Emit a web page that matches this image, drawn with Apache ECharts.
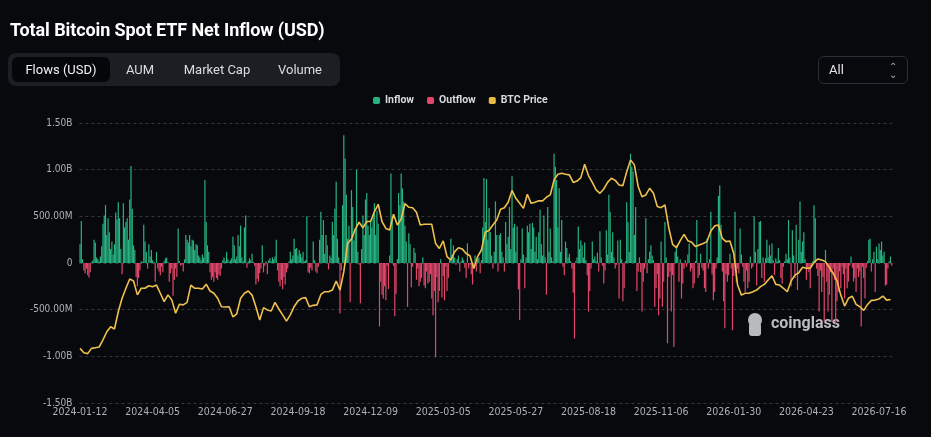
<!DOCTYPE html>
<html>
<head>
<meta charset="utf-8">
<script src="https://cdn.jsdelivr.net/npm/echarts@6/dist/echarts.min.js"></script>
<style>
	html, body { margin: 0; padding: 0; background: #08090d; }
	#wrap { position: relative; width: 931px; height: 437px; overflow: hidden; font-family: Roboto, "Noto Sans", sans-serif; }
	#chart { position: absolute; left: 0; top: 0; width: 931px; height: 437px; }
	.tit { position: absolute; left: 10px; top: 19px; color: #fff; font-size: 18px; font-weight: bold; letter-spacing: -0.1px; }
	.tabs { position: absolute; left: 8px; top: 53px; width: 332px; height: 33px; background: #1c1e24; border-radius: 8px; }
	.tab { position: absolute; top: 4px; height: 25px; line-height: 25px; color: #dcdde0; font-size: 13px; text-align: center; border-radius: 6px; }
	.tab.on { background: #050609; color: #f2f2f2; }
	.sel { position: absolute; left: 818px; top: 56px; width: 88px; height: 26px; border: 1px solid #2c2f36; border-radius: 6px; color: #e6e6e6; font-size: 13px; line-height: 26px; }
	.sel span { position: absolute; left: 10px; }
	.sel i { position: absolute; right: 10px; top: 0; font-style: normal; font-size: 10px; line-height: 8px; color: #b0b0b0; padding-top: 6px; }
</style>
</head>
<body>
<div id="wrap">
	<div id="chart"></div>
	<div class="tit">Total Bitcoin Spot ETF Net Inflow (USD)</div>
	<div class="tabs">
		<div class="tab on" style="left:4px;width:98px">Flows (USD)</div>
		<div class="tab" style="left:112px;width:40px">AUM</div>
		<div class="tab" style="left:170px;width:78px">Market Cap</div>
		<div class="tab" style="left:262px;width:60px">Volume</div>
	</div>
	<div class="sel"><span>All</span><i>&#8963;<br>&#8964;</i></div>
</div>
<script>
// daily net flow, USD millions (one per trading day from 2024-01-12)
var flows = [
	200, 450, 40, -80, -110, -60, -130, -155, -100, 10,
	30, 250, 220, 60, 40, 20, 70, 180, 420, 510,
	620, 300, 480, 330, 150, 230, 90, 200, 540, 470,
	650, 480, 150, -120, 640, 380, 440, 480, 250, 680,
	1040, 580, 190, 140, -150, -250, -160, -80, 20, 10,
	410, 230, 120, -60, 200, 70, 140, 30, 10, -200,
	120, -60, -90, -130, -40, -100, 20, 50, 60, 10,
	-200, -110, -60, -350, -180, -60, -150, 370, 20, -30,
	-20, -90, 40, 300, 250, 220, 300, 180, 250, 240,
	140, 200, 190, 80, 60, 30, 90, 60, 890, 440,
	190, 120, -100, -180, -150, -200, -100, -160, -180, -120,
	-140, -60, 30, 60, 20, 120, 40, 10, 30, 50,
	280, 190, 40, 70, 300, 180, 400, 60, 20, 380,
	510, -50, 20, 50, 30, 100, 10, -30, -230, -170,
	-200, -110, -60, 190, -100, -30, 20, -120, 30, 50,
	20, 60, 40, 70, 250, -80, -200, -250, -180, -280,
	-150, -230, -100, -60, 20, 120, 40, 80, 260, 150,
	160, 80, 140, 100, 60, 120, 20, 30, 500, -100,
	-110, -50, -80, 230, 30, -90, -110, -40, 250, 550,
	300, 460, 100, 300, 190, -70, 80, 60, 440, 300,
	580, 870, 260, 60, -540, -80, 620, 1370, 1120, 730,
	260, 400, -420, 780, 600, 240, 360, 1000, 120, -20,
	-430, 150, 510, 300, 680, 750, 400, 300, 460, 380,
	520, 640, 300, 560, 420, -680, -200, -340, -380, -250,
	-400, -30, -280, 80, 960, 500, -30, -570, -330, 40,
	750, 620, 960, 800, 660, 400, 230, -470, 320, 200,
	-260, -40, 160, 110, -180, -60, -250, -200, -160, 60,
	-240, -270, -90, -220, -200, -120, -380, -560, -300, -1010,
	-150, -420, -300, 40, -370, -140, -400, -40, -300, -160,
	30, 260, 90, 190, 60, -20, 40, 80, -90, 20,
	60, 30, -50, -160, 210, -60, -20, -120, -230, -40,
	80, -90, 40, 60, -110, 30, 380, 910, 440, 900,
	250, 590, 330, 80, -60, 120, 660, 300, -90, 300,
	320, 120, 60, -90, 440, 200, 280, 600, 150, 930,
	380, 420, 120, 390, -280, -610, 40, 370, 90, -270,
	60, 400, 330, 420, 150, 430, 380, 120, 280, 40,
	330, 570, 200, 80, 510, 60, -340, 600, 120, 370,
	60, 20, 1170, 1030, 890, 380, 800, 120, 460, -40,
	-130, 230, 160, 60, 100, 20, -60, -320, -810, 20,
	60, 390, 150, 240, 190, 60, 220, 30, -130, -520,
	-300, -60, 230, 40, 70, 20, 110, -90, 340, 60,
	-30, -220, -80, 350, 90, 730, 550, 120, 330, 60,
	-60, -20, 240, -380, 250, 40, -410, -270, 20, 650,
	440, 120, 1170, 1030, 980, 300, 600, -300, -90, 60,
	-100, -520, -200, -60, 480, -110, 40, 120, 190, 80,
	30, -470, -270, -120, -560, -380, 230, -470, -200, 440,
	60, -860, -150, -90, -520, -130, -900, 120, 190, 70,
	-200, 40, -380, -220, -60, 30, -40, 90, 210, -90,
	-60, -270, -220, 20, 460, -160, -130, 100, -50, -80,
	-270, -310, 260, -60, 40, 550, -120, -400, -310, -60,
	60, 720, 830, 410, -90, -410, -700, -120, -200, -130,
	100, -60, -720, -140, 550, -200, -60, -110, 370, 90,
	-40, -200, -310, -80, -270, -200, 70, -60, -40, 500,
	120, -240, 150, 440, 450, -160, 60, -200, 50, 250,
	60, 190, 80, 210, 30, -130, 50, 20, 160, 30,
	-160, -220, -40, 20, 100, 40, 460, 60, -250, 350,
	80, -160, 410, -290, 250, 660, 120, 230, 330, 40,
	-180, -60, -100, -270, -40, 20, 620, 480, -60, -140,
	-520, -80, -310, -150, -630, 140, -200, -520, -340, -100,
	-630, -60, -180, -660, -410, -310, -90, -270, -40, -120,
	-380, -60, -270, -200, -30, 70, -50, -200, -160, -310,
	-60, -150, -90, -680, -40, -160, -380, -50, 20, 250,
	260, -90, 40, 120, -310, 175, 40, 210, 140, 230,
	80, 120, -240, -230, -60, 20, 70, -30
];

// BTC price, USD thousands, read every 3rd trading day
var priceStep = 3;
var btcPrice = [
	43.0, 41.1, 40.7, 43.0, 43.3, 43.6, 46.7, 50.3, 52.5, 51.5,
	59.1, 65.0, 69.4, 73.5, 72.6, 66.5, 69.4, 69.4, 70.5, 70.1,
	70.8, 67.2, 63.5, 66.5, 64.3, 58.4, 62.4, 62.1, 63.2, 70.8,
	69.4, 69.4, 69.1, 71.2, 68.2, 67.2, 65.0, 61.3, 61.2, 61.3,
	56.8, 58.2, 65.0, 67.2, 68.2, 66.4, 61.3, 55.5, 60.9, 59.9,
	59.4, 63.2, 60.3, 57.7, 55.0, 57.7, 61.3, 63.8, 65.0, 65.3,
	61.3, 61.9, 62.1, 66.7, 67.9, 67.9, 68.6, 72.6, 68.6, 76.7,
	89.2, 91.0, 95.4, 98.4, 96.0, 98.7, 98.7, 103.0, 106.3, 98.7,
	95.7, 95.0, 101.9, 97.2, 99.8, 106.6, 105.0, 104.8, 102.8, 97.2,
	97.5, 97.5, 97.5, 89.1, 86.9, 90.2, 83.3, 81.8, 85.5, 87.2,
	86.6, 84.7, 83.7, 78.1, 83.3, 86.2, 94.0, 94.9, 97.2, 99.4,
	104.1, 104.8, 107.2, 112.4, 108.9, 106.7, 104.5, 110.7, 106.7, 107.2,
	107.8, 107.8, 109.4, 110.4, 117.0, 119.5, 119.9, 119.5, 119.2, 115.9,
	116.5, 118.0, 123.9, 118.9, 115.9, 112.6, 111.1, 113.0, 115.9, 117.7,
	116.8, 114.8, 114.5, 120.6, 125.8, 123.6, 114.1, 109.6, 110.4, 113.3,
	111.1, 105.3, 104.8, 106.0, 96.0, 88.7, 87.2, 90.3, 93.1, 90.3,
	89.6, 87.7, 88.4, 89.1, 89.9, 94.6, 96.8, 97.2, 91.3, 89.9,
	90.2, 84.7, 70.8, 66.4, 67.2, 67.2, 67.9, 68.6, 70.1, 71.1,
	73.0, 74.9, 71.1, 70.8, 69.4, 67.9, 72.6, 75.2, 76.2, 78.6,
	78.2, 78.2, 80.8, 82.3, 81.8, 81.1, 78.6, 76.0, 72.8, 66.4,
	61.6, 65.0, 65.9, 62.3, 61.3, 59.7, 62.3, 64.1, 64.2, 64.7,
	66.0, 64.2, 64.5
];

var firstDay = '2024-01-12';
var marketHolidays = [
	'2024-01-15', '2024-02-19', '2024-03-29', '2024-05-27', '2024-06-19', '2024-07-04', '2024-09-02', '2024-11-28', '2024-12-25',
	'2025-01-01', '2025-01-09', '2025-01-20', '2025-02-17', '2025-04-18', '2025-05-26', '2025-06-19', '2025-07-04', '2025-09-01', '2025-11-27', '2025-12-25',
	'2026-01-01', '2026-01-19', '2026-02-16', '2026-04-03', '2026-05-25', '2026-06-19', '2026-07-03'
];

// trading-day categories for the x axis
function tradingDays(start, n){
	var out = [];
	var d = new Date(start + 'T00:00:00Z');
	while(out.length < n){
		var s = d.toISOString().slice(0, 10);
		var wd = d.getUTCDay();
		if(wd !== 0 && wd !== 6 && marketHolidays.indexOf(s) < 0) out.push(s);
		d.setUTCDate(d.getUTCDate() + 1);
	}
	return out;
}

var dates = tradingDays(firstDay, flows.length);
var inflow = flows.map(v => v > 0 ? v : null);
var outflow = flows.map(v => v < 0 ? v : null);
var priceLine = dates.map((d, i) => i % priceStep === 0 && btcPrice[i / priceStep] != null ? btcPrice[i / priceStep] : null);

function fmtFlow(v){
	if(v === 0) return '0';
	if(Math.abs(v) >= 1000) return (v / 1000).toFixed(2) + 'B';
	return v.toFixed(2) + 'M';
}

var axisFont = '"DejaVu Sans Condensed", "Liberation Sans Narrow", Roboto, sans-serif';

var chart = echarts.init(document.getElementById('chart'));
chart.setOption({
	animation: false,
	backgroundColor: '#08090d',
	legend: {
		top: 90,
		left: 368,
		itemWidth: 7,
		itemHeight: 7,
		itemGap: 13,
		icon: 'roundRect',
		selectedMode: false,
		textStyle: {color: '#d8d9dc', fontSize: 10.5, fontWeight: 'bold', fontFamily: 'Roboto, sans-serif'},
		data: ['Inflow', 'Outflow', 'BTC Price']
	},
	grid: {left: 79.4, right: 38.6, top: 123, bottom: 34, containLabel: false},
	xAxis: {
		type: 'category',
		data: dates,
		boundaryGap: true,
		axisLine: {show: false},
		axisTick: {show: false},
		axisLabel: {interval: 56, color: '#aeb1b7', fontSize: 10.5, fontFamily: axisFont, margin: 4}
	},
	yAxis: [{
		type: 'value',
		min: -1500,
		max: 1500,
		interval: 500,
		axisLine: {show: false},
		axisTick: {show: false},
		axisLabel: {color: '#aeb1b7', fontSize: 10, fontFamily: axisFont, margin: 7, formatter: fmtFlow},
		splitLine: {lineStyle: {color: '#34373d', type: [3, 3], width: 1}}
	}, {
		type: 'value',
		show: false,
		min: 19,
		max: 142,
		splitLine: {show: false}
	}],
	graphic: [{
		type: 'group',
		left: 748,
		top: 313,
		children: [
			{type: 'circle', shape: {cx: 9, cy: 7, r: 7}, style: {fill: '#b9babc'}},
			{type: 'rect', shape: {x: 3, y: 10, width: 12, height: 13, r: 3}, style: {fill: '#b9babc'}},
			{type: 'text', x: 25, y: 3, style: {text: 'coinglass', fill: '#bcbdbf', font: 'bold 16px Roboto, sans-serif'}}
		]
	}],
	series: [{
		name: 'Inflow',
		type: 'bar',
		data: inflow,
		barWidth: 1.2,
		barGap: '-100%',
		itemStyle: {color: '#27b381'}
	}, {
		name: 'Outflow',
		type: 'bar',
		data: outflow,
		barWidth: 1.2,
		itemStyle: {color: '#e2476b'}
	}, {
		name: 'BTC Price',
		type: 'line',
		yAxisIndex: 1,
		data: priceLine,
		connectNulls: true,
		showSymbol: false,
		itemStyle: {color: '#e9bb45'},
		lineStyle: {color: '#efc04c', width: 1.6}
	}]
});
</script>
</body>
</html>
